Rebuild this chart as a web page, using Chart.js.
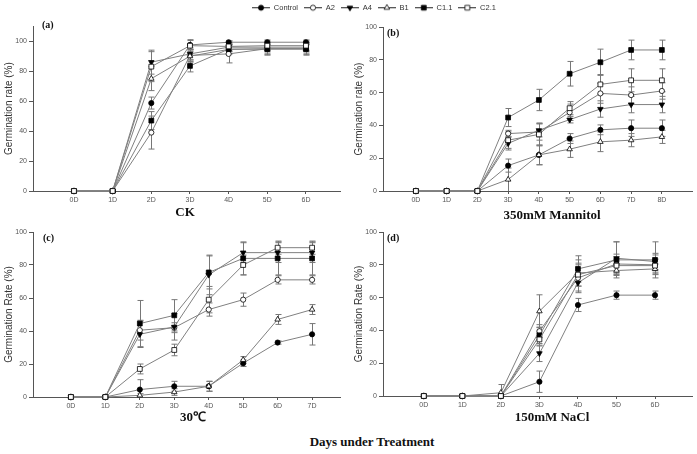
<!DOCTYPE html>
<html>
<head>
<meta charset="utf-8">
<script src="https://cdn.jsdelivr.net/npm/chart.js@4.4.0/dist/chart.umd.min.js"></script>
<style>
  html, body { margin: 0; padding: 0; background: #fff; overflow: hidden; }
  body { width: 697px; height: 454px; position: relative; }
  canvas { position: absolute; }
  #daysTitle { position: absolute; left: 272px; width: 200px; top: 434px; text-align: center;
               font: bold 13px 'Liberation Serif', serif; color: #111; }
</style>
</head>
<body>
<canvas id="legendChart" width="500" height="60" style="left:124px; top:-2px"></canvas>
<canvas id="ckChart" width="345" height="200" style="left:0px; top:20px"></canvas>
<canvas id="mannitolChart" width="347" height="200" style="left:350px; top:20px"></canvas>
<canvas id="heatChart" width="345" height="200" style="left:0px; top:225px"></canvas>
<canvas id="saltChart" width="347" height="200" style="left:350px; top:225px"></canvas>
<div id="daysTitle">Days under Treatment</div>
<script>
// Series names (legend order)
const seriesNames = ['Control', 'A2', 'A4', 'B1', 'C1.1', 'C2.1'];
const yTickValues = [0, 20, 40, 60, 80, 100];

// (a) CK
const ckDays = ['0D', '1D', '2D', '3D', '4D', '5D', '6D'];
const ckControl = [0, 0, 58.7, 97.5, 99.3, 99.3, 99.3];
const ckA2 = [0, 0, 39, 90.5, 91.5, 95, 95];
const ckA4 = [0, 0, 86, 91.5, 96, 96, 96];
const ckB1 = [0, 0, 75, 90, 94.5, 95, 95];
const ckC11 = [0, 0, 47, 83.5, 94.7, 94.7, 94.7];
const ckC21 = [0, 0, 83, 97, 96.5, 97, 97];
const ckControlErr = [0, 0, 4, 3, 1, 1.5, 1.5];
const ckA2Err = [0, 0, 11, 4, 6, 4, 4];
const ckA4Err = [0, 0, 8, 4, 3, 3, 3];
const ckB1Err = [0, 0, 8, 4, 3, 3, 3];
const ckC11Err = [0, 0, 6, 4, 3, 4, 4];
const ckC21Err = [0, 0, 10, 4, 3, 3, 3];

// (b) 350mM Mannitol
const mnDays = ['0D', '1D', '2D', '3D', '4D', '5D', '6D', '7D', '8D'];
const mnControl = [0, 0, 0, 15.5, 22, 32, 37.3, 38.3, 38.3];
const mnA2 = [0, 0, 0, 35, 36, 48, 59.5, 58.5, 61];
const mnA4 = [0, 0, 0, 29, 37, 43.5, 50, 52.7, 52.7];
const mnB1 = [0, 0, 0, 7, 22, 25.5, 30, 31, 33];
const mnC11 = [0, 0, 0, 44.8, 55.5, 71.5, 78.5, 86, 86];
const mnC21 = [0, 0, 0, 31, 34.5, 50.5, 65, 67.5, 67.5];
const mnControlErr = [0, 0, 0, 4, 6, 3, 3, 5, 5];
const mnA2Err = [0, 0, 0, 2, 5, 5, 6, 5, 5];
const mnA4Err = [0, 0, 0, 4, 4, 2, 5, 5, 5];
const mnB1Err = [0, 0, 0, 7, 6, 5, 6, 4, 4];
const mnC11Err = [0, 0, 0, 5.5, 6.5, 7.5, 8, 6, 6];
const mnC21Err = [0, 0, 0, 5, 7, 4, 6, 7, 7];

// (c) 30℃
const hotDays = ['0D', '1D', '2D', '3D', '4D', '5D', '6D', '7D'];
const hotControl = [0, 0, 4.5, 6.5, 6.5, 20.5, 33, 38];
const hotA2 = [0, 0, 40.5, 42, 53, 59, 71, 71];
const hotA4 = [0, 0, 38, 42.5, 74, 87.5, 87.5, 87.5];
const hotB1 = [0, 0, 1, 3, 6.5, 22.5, 47, 53];
const hotC11 = [0, 0, 44.5, 49.5, 75.5, 84, 84, 84];
const hotC21 = [0, 0, 17, 28.5, 59, 80, 90.5, 90.5];
const hotControlErr = [0, 0, 6, 3, 3, 2, 1, 6.5];
const hotA2Err = [0, 0, 6, 3, 4, 4, 2.5, 2.5];
const hotA4Err = [0, 0, 8, 8, 12, 6, 6, 6];
const hotB1Err = [0, 0, 1, 2, 3, 2, 3, 3];
const hotC11Err = [0, 0, 14, 9.5, 10, 10, 10, 10];
const hotC21Err = [0, 0, 3, 3.5, 8, 6, 4, 4];

// (d) 150mM NaCl
const naDays = ['0D', '1D', '2D', '3D', '4D', '5D', '6D'];
const naControl = [0, 0, 0, 8.7, 55.5, 61.5, 61.5];
const naA2 = [0, 0, 0, 39.5, 72, 80.5, 80];
const naA4 = [0, 0, 0, 26, 69, 84, 82];
const naB1 = [0, 0, 2, 51.7, 75, 76.5, 77.5];
const naC11 = [0, 0, 0, 37, 77.5, 83, 83];
const naC21 = [0, 0, 0, 34.5, 74, 79.5, 79.5];
const naControlErr = [0, 0, 0, 6.5, 4, 2.5, 2.5];
const naA2Err = [0, 0, 0, 4, 8, 6, 6];
const naA4Err = [0, 0, 0, 5, 6, 10, 5];
const naB1Err = [0, 0, 5, 10, 8, 3, 3];
const naC11Err = [0, 0, 0, 5, 8, 11, 11];
const naC21Err = [0, 0, 0, 4, 7, 4, 4];

// Marker look per series
const markers = [
    { style: 'circle', rotation: 0, radius: 2.6, fill: '#000' },
    { style: 'circle', rotation: 0, radius: 2.6, fill: '#fff' },
    { style: 'triangle', rotation: 180, radius: 3.2, fill: '#000' },
    { style: 'triangle', rotation: 0, radius: 3.2, fill: '#fff' },
    { style: 'rect', rotation: 0, radius: 3.4, fill: '#000' },
    { style: 'rect', rotation: 0, radius: 3.4, fill: '#fff' }
];

const sansFont = "'Liberation Sans', Arial, sans-serif";
const serifFont = "'Liberation Serif', 'Times New Roman', serif";

// Draws the error bars under the lines
const errorBars = {
    id: 'errorBars',
    beforeDatasetsDraw(chart) {
        const ctx = chart.ctx;
        const yScale = chart.scales.y;
        const area = chart.chartArea;
        ctx.save();
        ctx.strokeStyle = '#777';
        ctx.lineWidth = 1;
        chart.data.datasets.forEach((ds, i) => {
            chart.getDatasetMeta(i).data.forEach((pt, j) => {
                const e = ds.errors[j];
                if (!e) return;
                const v = ds.data[j].y;
                const top = yScale.getPixelForValue(v + e);
                const bot = Math.min(yScale.getPixelForValue(v - e), area.bottom);
                const x = Math.round(pt.x) + 0.5;
                ctx.beginPath();
                ctx.moveTo(x, top); ctx.lineTo(x, bot);
                ctx.moveTo(x - 3, top); ctx.lineTo(x + 3, top);
                if (bot < area.bottom) { ctx.moveTo(x - 3, bot); ctx.lineTo(x + 3, bot); }
                ctx.stroke();
            });
        });
        ctx.restore();
    }
};

// Panel letter and condition title
const panelText = {
    id: 'panelText',
    afterDraw(chart, args, o) {
        const ctx = chart.ctx;
        ctx.save();
        ctx.fillStyle = '#111';
        ctx.textBaseline = 'middle';
        ctx.font = 'bold 10px ' + serifFont;
        ctx.textAlign = 'left';
        ctx.fillText(o.label, o.labelX, o.labelY);
        ctx.font = 'bold 13px ' + serifFont;
        ctx.textAlign = 'center';
        ctx.fillText(o.title, o.titleX, o.titleY);
        ctx.restore();
    }
};

function makePanel(id, days, rates, errs, opts) {
    const datasets = seriesNames.map((name, i) => ({
        label: name,
        data: days.map((d, j) => ({ x: j, y: rates[i][j] })),
        errors: errs[i],
        order: seriesNames.length - i,
        borderColor: '#808080',
        borderWidth: 1,
        pointStyle: markers[i].style,
        pointRotation: markers[i].rotation,
        pointRadius: markers[i].radius,
        pointBackgroundColor: markers[i].fill,
        pointBorderColor: '#000',
        pointBorderWidth: 0.8,
        tension: 0,
        clip: false
    }));

    return new Chart(document.getElementById(id), {
        type: 'line',
        data: { datasets: datasets },
        options: {
            responsive: false,
            animation: false,
            layout: { padding: { top: opts.top, right: 5, left: 0, bottom: 0 } },
            plugins: {
                legend: { display: false },
                tooltip: { enabled: false },
                panelText: opts.text
            },
            scales: {
                x: {
                    type: 'linear',
                    min: opts.xMin,
                    max: opts.xMax,
                    afterBuildTicks: s => { s.ticks = days.map((d, j) => ({ value: j })); },
                    afterFit: s => { s.height = opts.xHeight; },
                    ticks: {
                        callback: v => days[v],
                        autoSkip: false, maxRotation: 0,
                        font: { size: 7, family: sansFont }, color: '#555', padding: 2
                    },
                    grid: { drawOnChartArea: false, tickLength: 3, color: '#555' },
                    border: { color: '#555' }
                },
                y: {
                    min: 0,
                    max: opts.yMax,
                    afterBuildTicks: s => { s.ticks = yTickValues.map(v => ({ value: v })); },
                    afterFit: s => { s.width = 33; },
                    ticks: { font: { size: 7, family: sansFont }, color: '#555', padding: 2 },
                    grid: { drawOnChartArea: false, tickLength: 4, color: '#555' },
                    border: { color: '#555' },
                    title: {
                        display: true, text: opts.yTitle, color: '#333',
                        font: { size: 10, family: sansFont }, padding: { top: 3, bottom: 0 }
                    }
                }
            }
        },
        plugins: [errorBars, panelText]
    });
}

makePanel('ckChart', ckDays,
    [ckControl, ckA2, ckA4, ckB1, ckC11, ckC21],
    [ckControlErr, ckA2Err, ckA4Err, ckB1Err, ckC11Err, ckC21Err],
    { xMin: -1.06, xMax: 6.88, yMax: 110, top: 5, xHeight: 29, yTitle: 'Germination rate (%)',
      text: { label: '(a)', labelX: 42, labelY: 5, title: 'CK', titleX: 185, titleY: 193 } });

makePanel('mannitolChart', mnDays,
    [mnControl, mnA2, mnA4, mnB1, mnC11, mnC21],
    [mnControlErr, mnA2Err, mnA4Err, mnB1Err, mnC11Err, mnC21Err],
    { xMin: -1.07, xMax: 8.98, yMax: 100, top: 7, xHeight: 29, yTitle: 'Germination rate (%)',
      text: { label: '(b)', labelX: 37, labelY: 13, title: '350mM Mannitol', titleX: 202, titleY: 196 } });

makePanel('heatChart', hotDays,
    [hotControl, hotA2, hotA4, hotB1, hotC11, hotC21],
    [hotControlErr, hotA2Err, hotA4Err, hotB1Err, hotC11Err, hotC21Err],
    { xMin: -1.1, xMax: 7.81, yMax: 100, top: 7, xHeight: 28, yTitle: 'Germination Rate (%)',
      text: { label: '(c)', labelX: 43, labelY: 13, title: '30℃', titleX: 193, titleY: 193 } });

makePanel('saltChart', naDays,
    [naControl, naA2, naA4, naB1, naC11, naC21],
    [naControlErr, naA2Err, naA4Err, naB1Err, naC11Err, naC21Err],
    { xMin: -1.06, xMax: 6.96, yMax: 100, top: 7, xHeight: 29, yTitle: 'Germination Rate (%)',
      text: { label: '(d)', labelX: 37, labelY: 13, title: '150mM NaCl', titleX: 202, titleY: 193 } });

// Legend icon: short line with the series marker
function legendIcon(m) {
    const c = document.createElement('canvas');
    c.width = 18; c.height = 9;
    const g = c.getContext('2d');
    g.strokeStyle = '#222';
    g.lineWidth = 1;
    g.beginPath(); g.moveTo(0, 4.5); g.lineTo(18, 4.5); g.stroke();
    g.fillStyle = m.fill;
    g.strokeStyle = '#000';
    g.lineWidth = 0.8;
    Chart.helpers.drawPoint(g, { pointStyle: m.style, rotation: m.rotation, radius: m.radius, borderWidth: 0.8 }, 9, 4.5);
    return c;
}

new Chart(document.getElementById('legendChart'), {
    type: 'line',
    data: { datasets: seriesNames.map(name => ({ label: name, data: [] })) },
    options: {
        responsive: false,
        animation: false,
        layout: { padding: 0 },
        scales: { x: { display: false }, y: { display: false } },
        plugins: {
            tooltip: { enabled: false },
            legend: {
                display: true,
                position: 'top',
                labels: {
                    usePointStyle: true,
                    pointStyleWidth: 18,
                    padding: 6,
                    color: '#333',
                    font: { size: 7.5, family: sansFont },
                    generateLabels: chart => seriesNames.map((name, i) => ({
                        text: name,
                        pointStyle: legendIcon(markers[i]),
                        datasetIndex: i,
                        hidden: false,
                        fontColor: '#333',
                        lineWidth: 0
                    }))
                }
            }
        }
    }
});
</script>
</body>
</html>
